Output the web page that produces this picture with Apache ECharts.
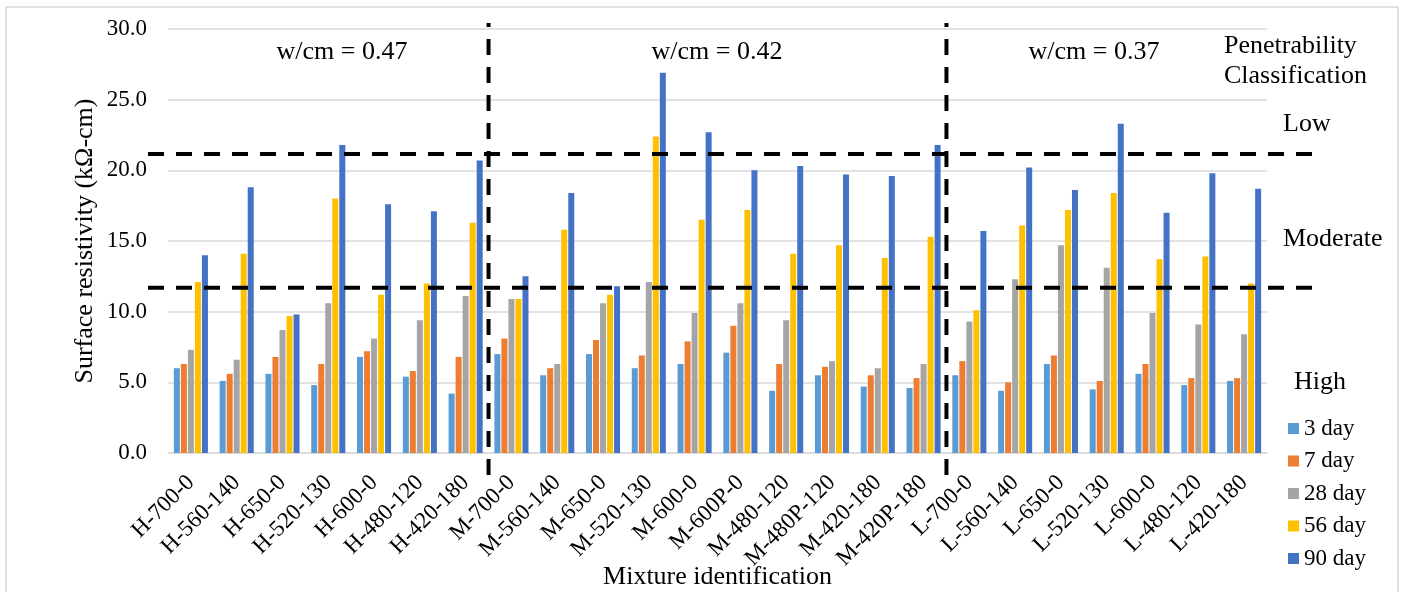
<!DOCTYPE html>
<html>
<head>
<meta charset="utf-8">
<script src="https://cdn.jsdelivr.net/npm/echarts@6/dist/echarts.min.js"></script>
<style>
html,body{margin:0;padding:0;background:#fff;}
#chart{width:1404px;height:592px;}
</style>
</head>
<body>
<div id="chart"></div>
<script>
const categories = ['H-700-0','H-560-140','H-650-0','H-520-130','H-600-0','H-480-120','H-420-180',
  'M-700-0','M-560-140','M-650-0','M-520-130','M-600-0','M-600P-0','M-480-120','M-480P-120','M-420-180','M-420P-180',
  'L-700-0','L-560-140','L-650-0','L-520-130','L-600-0','L-480-120','L-420-180'];
const seriesNames = ['3 day','7 day','28 day','56 day','90 day'];
const day3  = [6.0,5.1,5.6,4.8,6.8,5.4,4.2, 7.0,5.5,7.0,6.0,6.3,7.1,4.4,5.5,4.7,4.6, 5.5,4.4,6.3,4.5,5.6,4.8,5.1];
const day7  = [6.3,5.6,6.8,6.3,7.2,5.8,6.8, 8.1,6.0,8.0,6.9,7.9,9.0,6.3,6.1,5.5,5.3, 6.5,5.0,6.9,5.1,6.3,5.3,5.3];
const day28 = [7.3,6.6,8.7,10.6,8.1,9.4,11.1, 10.9,6.3,10.6,12.1,9.9,10.6,9.4,6.5,6.0,6.3, 9.3,12.3,14.7,13.1,9.9,9.1,8.4];
const day56 = [12.1,14.1,9.7,18.0,11.2,12.0,16.3, 10.9,15.8,11.2,22.4,16.5,17.2,14.1,14.7,13.8,15.3, 10.1,16.1,17.2,18.4,13.7,13.9,12.0];
const day90 = [14.0,18.8,9.8,21.8,17.6,17.1,20.7, 12.5,18.4,11.8,26.9,22.7,20.0,20.3,19.7,19.6,21.8, 15.7,20.2,18.6,23.3,17.0,19.8,18.7];
const thresholds = [11.7, 21.15];   // penetrability class limits (kΩ-cm)
const boundaries = [7, 17];          // category boundaries between w/cm groups
const groupLabels = ['w/cm = 0.47','w/cm = 0.42','w/cm = 0.37'];
const classLabels = ['Low','Moderate','High'];

const colors = ['#5B9BD5','#ED7D31','#A5A5A5','#FFC000','#4472C4'];
const FONT = '"Liberation Serif", "Times New Roman", serif';
const allData = [day3, day7, day28, day56, day90];

const chart = echarts.init(document.getElementById('chart'));

const barSeries = allData.map((d, i) => ({
  name: seriesNames[i], type: 'bar', data: d,
  xAxisIndex: 0, yAxisIndex: 0,
  barWidth: 6, barGap: '17%',
  itemStyle: { color: colors[i] },
  emphasis: { disabled: true }
}));

const dash = { color: '#000', width: 4, type: [16, 12], cap: 'butt' };
const hLineSeries = thresholds.map(t => ({
  type: 'line', xAxisIndex: 1, yAxisIndex: 1, data: [[0, t], [1, t]],
  symbol: 'none', silent: true, z: 5, lineStyle: dash
}));
const vLineSeries = boundaries.map(b => ({
  type: 'line', xAxisIndex: 2, yAxisIndex: 2, data: [[b, 0], [b, 1]],
  symbol: 'none', silent: true, z: 5, lineStyle: dash
}));

const txt = (text, x, y, align) => ({
  type: 'text', x: x, y: y, silent: true,
  style: { text, font: '26px ' + FONT, fill: '#000', textAlign: align, textVerticalAlign: 'middle' }
});

const option = {
  animation: false,
  backgroundColor: '#fff',
  textStyle: { fontFamily: FONT },
  grid: [
    { left: 168, right: 137, top: 29, bottom: 139, containLabel: false, outerBoundsMode: 'none' },
    { left: 148, right: 92, top: 29, bottom: 139, containLabel: false, outerBoundsMode: 'none' },
    { left: 168, right: 137, top: 23, bottom: 117, containLabel: false, outerBoundsMode: 'none' }
  ],
  xAxis: [
    { type: 'category', data: categories, gridIndex: 0,
      axisTick: { show: false },
      axisLine: { lineStyle: { color: '#d9d9d9', width: 1.5 } },
      axisLabel: { rotate: 45, interval: 0, color: '#000', fontFamily: FONT, fontSize: 23, margin: 26 },
      name: 'Mixture identification', nameLocation: 'middle', nameGap: 111, nameMoveOverlap: false,
      nameTextStyle: { fontFamily: FONT, fontSize: 26, color: '#000' } },
    { type: 'value', gridIndex: 1, min: 0, max: 1, show: false },
    { type: 'value', gridIndex: 2, min: 0, max: categories.length, show: false }
  ],
  yAxis: [
    { type: 'value', gridIndex: 0, min: 0, max: 30, interval: 5,
      axisLine: { show: false }, axisTick: { show: false },
      splitLine: { lineStyle: { color: '#d9d9d9', width: 1.5 } },
      axisLabel: { color: '#000', fontFamily: FONT, fontSize: 23, margin: 21, formatter: v => v.toFixed(1) },
      name: 'Surface resistivity (kΩ-cm)', nameLocation: 'middle', nameGap: 70, nameMoveOverlap: false,
      nameTextStyle: { fontFamily: FONT, fontSize: 26, color: '#000' } },
    { type: 'value', gridIndex: 1, min: 0, max: 30, show: false },
    { type: 'value', gridIndex: 2, min: 0, max: 1, show: false }
  ],
  legend: {
    data: seriesNames, orient: 'vertical', left: 1288, top: 417, padding: 0,
    icon: 'rect', itemWidth: 11, itemHeight: 11, itemGap: 9.5,
    textStyle: { fontFamily: FONT, fontSize: 23, color: '#000', lineHeight: 23 }
  },
  graphic: [
    { type: 'rect', silent: true, shape: { x: 6, y: 7, width: 1392, height: 620 },
      style: { fill: 'none', stroke: '#d9d9d9', lineWidth: 1.5 } },
    txt(groupLabels[0], 342, 52, 'center'),
    txt(groupLabels[1], 717, 52, 'center'),
    txt(groupLabels[2], 1094, 52, 'center'),
    txt('Penetrability', 1224, 46, 'left'),
    txt('Classification', 1224, 76, 'left'),
    txt(classLabels[0], 1283, 124, 'left'),
    txt(classLabels[1], 1283, 239, 'left'),
    txt(classLabels[2], 1294, 382, 'left')
  ],
  series: [...barSeries, ...hLineSeries, ...vLineSeries]
};
chart.setOption(option);
</script>
</body>
</html>
